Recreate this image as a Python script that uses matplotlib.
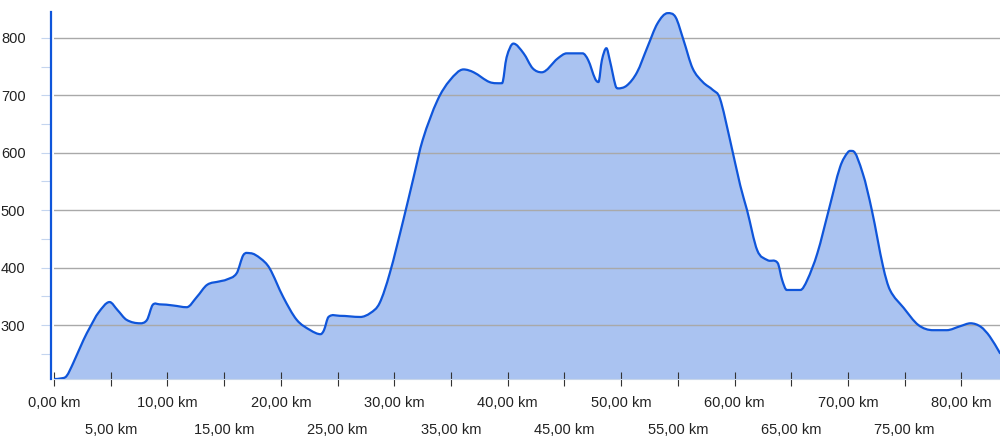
import numpy as np
import matplotlib
matplotlib.use("Agg")
import matplotlib.pyplot as plt
from matplotlib.path import Path
from matplotlib.patches import PathPatch

plt.rcParams['font.family'] = ['Liberation Sans', 'DejaVu Sans']

# distance (km) and elevation (m)
km = [0.0, 0.6, 1.1, 1.7, 2.6, 3.2, 3.9, 4.9, 5.6, 6.4, 7.6, 8.2, 8.7, 9.3, 10.5,
      11.7, 12.6, 13.5, 14.6, 15.2, 16.1, 16.7, 17.3, 18.2, 19.0, 20.2, 21.4, 22.6,
      23.5, 23.8, 24.2, 25.2, 27.0, 27.9, 28.7, 29.6, 30.8, 31.7, 32.5, 33.8, 34.9,
      36.1, 37.0, 38.4, 39.5, 39.9, 40.5, 41.4, 42.2, 43.0, 44.4, 45.2, 46.6, 47.1,
      47.7, 48.0, 48.3, 48.7, 49.0, 49.5, 49.7, 50.5, 51.4, 52.3, 53.2, 54.1, 54.8,
      55.5, 56.3, 57.2, 58.1, 58.7, 59.6, 60.5, 61.1, 62.0, 62.9, 63.8, 64.2, 64.6,
      65.8, 66.4, 67.3, 68.3, 69.3, 70.0, 70.4, 71.3, 72.1, 73.1, 73.7, 74.9, 76.2,
      77.5, 78.7, 79.9, 80.8, 81.7, 82.5, 83.4]
elev = [206, 207, 211, 234, 274, 297, 321, 340, 326, 309, 303, 309, 335, 336, 334,
        331, 349, 370, 376, 379, 390, 422, 425, 416, 399, 349, 309, 291,
        284, 291, 314, 316, 314, 321, 338, 390, 483, 557, 622, 691, 726,
        745, 740, 723, 721, 766, 790, 773, 747, 740, 764, 773, 773, 761,
        729, 723, 761, 782, 761, 717, 712, 717, 740, 783, 825, 843, 836,
        796, 747, 723, 709, 695, 622, 543, 500, 430, 413, 408, 378, 361,
        361, 378, 425, 500, 575, 601, 603, 564, 500, 401, 361, 330, 300,
        291, 291, 298, 303, 297, 280, 251]

y_ticks = [300, 400, 500, 600, 700, 800]
y_minor = [250, 350, 450, 550, 650, 750]
x_ticks = [0, 5, 10, 15, 20, 25, 30, 35, 40, 45, 50, 55, 60, 65, 70, 75, 80]
x_labels = ["0,00 km", "5,00 km", "10,00 km", "15,00 km", "20,00 km", "25,00 km",
            "30,00 km", "35,00 km", "40,00 km", "45,00 km", "50,00 km", "55,00 km",
            "60,00 km", "65,00 km", "70,00 km", "75,00 km", "80,00 km"]

X_MIN, X_MAX = 0, 83.4
Y_MIN, Y_MAX = 206, 845

LINE = '#0f55da'
FILL = '#aac3f1'
TXT = '#222222'

fig = plt.figure(figsize=(10, 4.44), dpi=100)
ax = fig.add_axes([0.054, 1 - 379 / 444, 0.946, (379 - 12) / 444])

# smooth curve (cubic Hermite with centred slopes, drawn as Bezier segments)
x = np.asarray(km, float)
y = np.asarray(elev, float)
h = np.diff(x)
d = np.diff(y) / h
m = np.zeros_like(y)
for i in range(1, len(x) - 1):
    if d[i - 1] * d[i] > 0:
        m[i] = (y[i + 1] - y[i - 1]) / (x[i + 1] - x[i - 1])
m[0] = d[0] * 0.3
m[-1] = d[-1]
verts = [(x[0], y[0])]
codes = [Path.MOVETO]
for i in range(len(x) - 1):
    verts += [(x[i] + h[i] / 3, y[i] + m[i] * h[i] / 3),
              (x[i + 1] - h[i] / 3, y[i + 1] - m[i + 1] * h[i] / 3),
              (x[i + 1], y[i + 1])]
    codes += [Path.CURVE4] * 3
line_path = Path(verts, codes)
fill_verts = verts + [(x[-1], Y_MIN), (x[0], Y_MIN), (x[0], y[0])]
fill_codes = codes + [Path.LINETO, Path.LINETO, Path.CLOSEPOLY]
ax.add_patch(PathPatch(Path(fill_verts, fill_codes), facecolor=FILL, edgecolor='none', zorder=1))
ax.add_patch(PathPatch(line_path, facecolor='none', edgecolor=LINE, lw=1.6, zorder=3,
                       joinstyle='round', capstyle='round'))

ax.set_xlim(X_MIN, X_MAX)
ax.set_ylim(Y_MIN, Y_MAX)

# grid
ax.set_axisbelow('line')
ax.set_yticks(y_ticks)
ax.set_yticks(y_minor, minor=True)
ax.yaxis.grid(True, which='major', color='#a9a9a9', lw=1.0)
ax.tick_params(axis='y', which='both', direction='out', length=7.5, width=0.8,
               color='#c4d5ef', labelsize=10.5, labelcolor=TXT, pad=11)

# spines
for s in ['top', 'right']:
    ax.spines[s].set_visible(False)
ax.spines['left'].set_color(LINE)
ax.spines['left'].set_linewidth(1.6)
ax.spines['left'].set_position(('outward', 2))
ax.spines['bottom'].set_color('#c8d6ea')
ax.spines['bottom'].set_linewidth(0.8)

# x ticks
ax.set_xticks(x_ticks)
ax.set_xticklabels([])
ax.tick_params(axis='x', direction='inout', length=10, width=0.8, color='#333333')
for i, (xt, lab) in enumerate(zip(x_ticks, x_labels)):
    off = -17.5 if i % 2 == 0 else -36.5
    ax.annotate(lab, xy=(xt, 0), xycoords=('data', 'axes fraction'),
                xytext=(0, off), textcoords='offset points',
                ha='center', va='center', fontsize=10.5, color=TXT,
                annotation_clip=False)

fig.savefig('out.png', dpi=100)
